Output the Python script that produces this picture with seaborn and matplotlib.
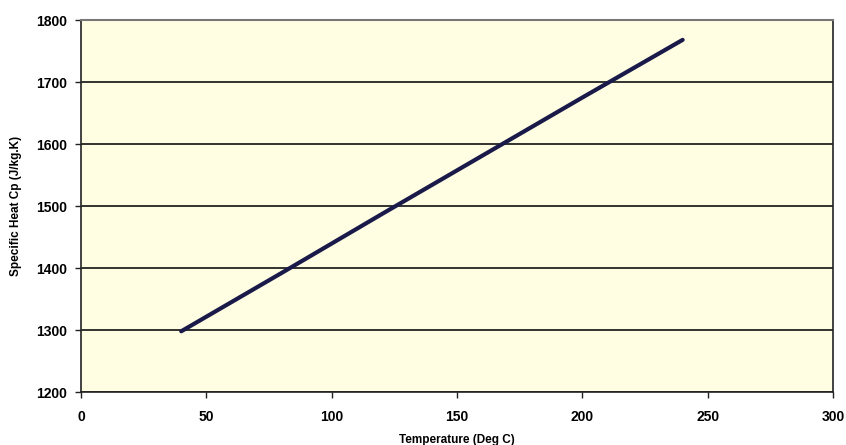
import pandas as pd
import matplotlib
matplotlib.use('Agg')
import matplotlib.pyplot as plt
import seaborn as sns

# values
temperature = [40, 80, 120, 160, 200, 240]
specific_heat = [1298, 1392, 1487, 1581, 1675, 1768]
x_ticks = [0, 50, 100, 150, 200, 250, 300]
y_ticks = [1200, 1300, 1400, 1500, 1600, 1700, 1800]

df = pd.DataFrame({'Temperature': temperature, 'Cp': specific_heat})

sns.set_style('ticks')
plt.rcParams['font.family'] = ['Liberation Sans', 'DejaVu Sans']

fig = plt.figure(figsize=(8.46, 4.45), dpi=100)
ax = fig.add_axes([0.0957, 0.119, 0.889, 0.836])
ax.set_facecolor('#fffee2')

sns.lineplot(data=df, x='Temperature', y='Cp', ax=ax, color='#1a1a4a', linewidth=3)

ax.set_xlim(0, 300)
ax.set_ylim(1200, 1800)
ax.set_xticks(x_ticks)
ax.set_yticks(y_ticks)
ax.yaxis.grid(True, color='#222222', linewidth=1.3)
ax.set_axisbelow(True)

for side in ['left', 'bottom', 'right']:
    ax.spines[side].set_color('#222222')
    ax.spines[side].set_linewidth(1.2)
ax.spines['top'].set_color('#777777')
ax.spines['top'].set_linewidth(1.5)

ax.tick_params(axis='both', direction='out', length=4, width=1, color='#222222',
               labelcolor='black', labelsize=10)
ax.tick_params(axis='x', pad=9)
ax.tick_params(axis='y', pad=6)
for lbl in ax.get_xticklabels() + ax.get_yticklabels():
    lbl.set_fontweight('bold')

ax.set_xlabel('Temperature (Deg C)', fontsize=8.5, fontweight='bold', labelpad=7,
              color='black')
ax.set_ylabel('Specific Heat Cp (J/kg.K)', fontsize=8.5, fontweight='bold', labelpad=10,
              color='black')

plt.savefig('out.png', dpi=100)
